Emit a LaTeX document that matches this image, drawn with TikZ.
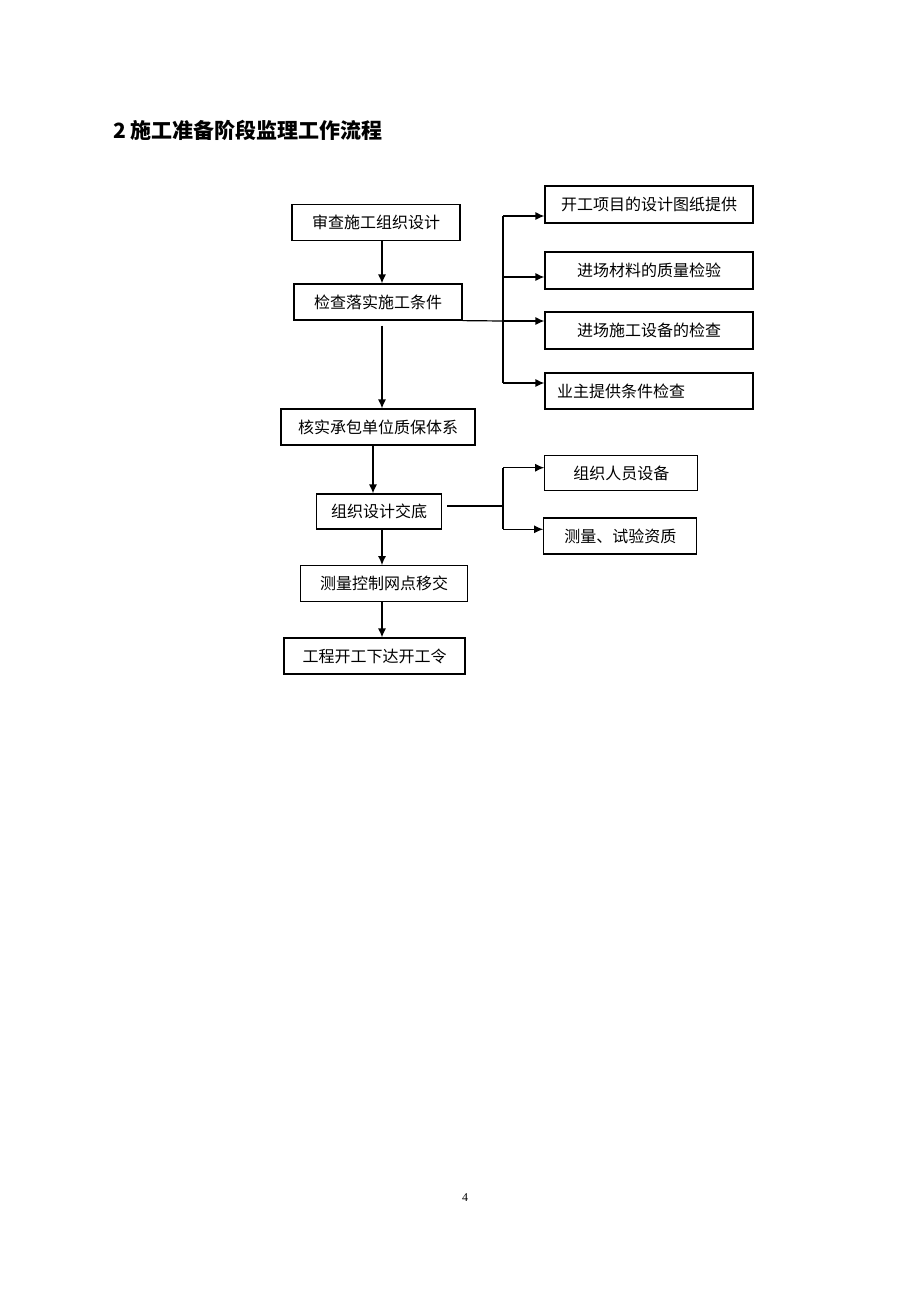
\documentclass[tikz,border=0pt]{standalone}
\usepackage{fontspec}
\setmainfont{Liberation Serif}
\newfontfamily\cjk{Noto Sans CJK SC}
\usetikzlibrary{arrows.meta,positioning,calc}
\tikzset{
    block/.style = {draw, rectangle, line width=1.2pt, inner sep=0pt,
        minimum height=36pt, align=center,
        font=\cjk\fontsize{16}{16}\selectfont},
    arrow/.style = {draw, line width=1.2pt, -{Latex[length=9pt,width=8pt]}},
    link/.style = {draw, line width=1.2pt}
}

\begin{document}
\begin{tikzpicture}[x=1pt, y=-1pt]
    \useasboundingbox[fill=white] (0,0) rectangle (920,1302);
    \node [anchor=west, inner sep=0pt, font=\cjk\bfseries\fontsize{21}{21}\selectfont] (title) at (113,130) {2 施工准备阶段监理工作流程};
    % main flow
    \node [block, minimum width=168pt] (plan) at (376,222.5) {审查施工组织设计};
    \node [block, minimum width=168pt] (check) at (378,302) {检查落实施工条件};
    \node [block, minimum width=194pt] (qa) at (378,427) {核实承包单位质保体系};
    \node [block, minimum width=125pt, minimum height=35pt] (brief) at (379,511.5) {组织设计交底};
    \node [block, minimum width=167pt] (survey) at (384,583.7) {测量控制网点移交};
    \node [block, minimum width=181pt] (start) at (374.5,656) {工程开工下达开工令};
    \coordinate (trunk) at (382,0);
    \draw [arrow] (plan.south -| trunk) -- (check.north -| trunk);
    \draw [arrow, shorten <=5pt] (check.south -| trunk) -- (qa.north -| trunk);
    \draw [arrow] ([xshift=-5pt]qa.south) -- ([xshift=-5pt]qa.south |- brief.north);
    \draw [arrow] (brief.south -| trunk) -- (survey.north -| trunk);
    \draw [arrow] (survey.south -| trunk) -- (start.north -| trunk);
    % conditions to check
    \foreach \n/\y/\t in {1/204.5/开工项目的设计图纸提供, 2/270.5/进场材料的质量检验, 3/330.5/进场施工设备的检查}{
        \node [block, minimum width=208pt, minimum height=37pt] (cond\n) at (649,\y) {\t};
    }
    \node [block, minimum width=208pt, text width=184pt, align=left] (cond4) at (649,391) {业主提供条件检查};
    \foreach \n/\y in {1/216,2/277,3/321,4/383}{
        \coordinate (bus\n) at (503,\y);
        \draw [arrow] (bus\n) -- (bus\n -| cond\n.west);
    }
    \draw [link] (bus1) -- (bus4);
    \draw [link] (check.south east) -- (bus3);
    % briefing
    \node [block, minimum width=153pt, minimum height=35pt] (staff) at (621.3,473.3) {组织人员设备};
    \node [block, minimum width=153pt] (lab) at (620.3,536) {测量、试验资质};
    \coordinate (split) at (503,506);
    \coordinate (tap1) at (503,467.7);
    \coordinate (tap2) at (503,529.3);
    \draw [link, shorten <=5pt] (brief.east |- split) -- (split);
    \draw [link] (tap1) -- (tap2);
    \draw [arrow] (tap1) -- (tap1 -| staff.west);
    \draw [arrow] (tap2) -- (tap2 -| lab.west);
    \node [font=\fontsize{12}{12}\selectfont] (page) at (465,1197.5) {4};
\end{tikzpicture}
\end{document}
